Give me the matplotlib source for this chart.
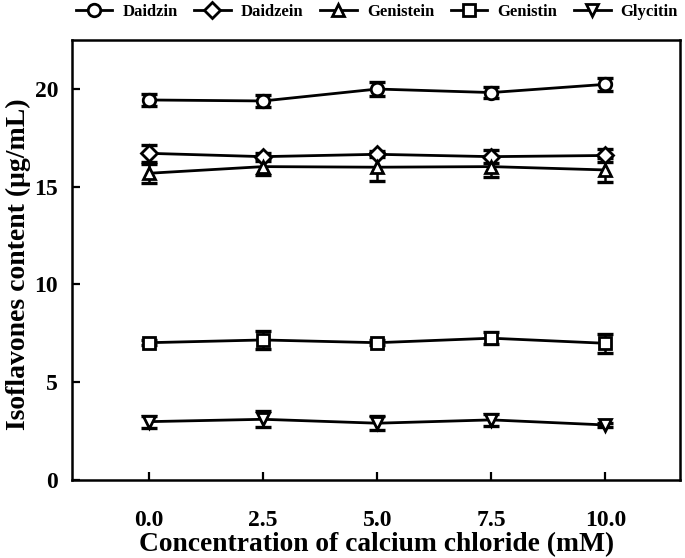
import matplotlib
matplotlib.use("Agg")
import matplotlib.pyplot as plt

plt.rcParams['font.family'] = ['Liberation Serif', 'DejaVu Serif']
plt.rcParams['font.weight'] = 'bold'

conc = [0.0, 2.5, 5.0, 7.5, 10.0]
xtick_labels = ["0.0", "2.5", "5.0", "7.5", "10.0"]
yticks = [0, 5, 10, 15, 20]

series_names = ["Daidzin", "Daidzein", "Genistein", "Genistin", "Glycitin"]
daidzin = [19.44, 19.39, 20.0, 19.82, 20.24]
daidzin_err = [0.3, 0.3, 0.36, 0.3, 0.32]
daidzein = [16.71, 16.54, 16.66, 16.54, 16.6]
daidzein_err = [0.42, 0.2, 0.15, 0.35, 0.35]
genistein = [15.69, 16.03, 16.0, 16.03, 15.86]
genistein_err = [0.48, 0.43, 0.73, 0.53, 0.63]
genistin = [7.02, 7.16, 7.02, 7.25, 6.99]
genistin_err = [0.12, 0.48, 0.12, 0.32, 0.5]
glycitin = [2.98, 3.1, 2.9, 3.07, 2.81]
glycitin_err = [0.3, 0.4, 0.36, 0.3, 0.1]

values = [daidzin, daidzein, genistein, genistin, glycitin]
errors = [daidzin_err, daidzein_err, genistein_err, genistin_err, glycitin_err]
markers = ['o', 'D', '^', 's', 'v']
msizes = [9, 8, 9, 9, 9]

fig = plt.figure(figsize=(6.85, 5.58), dpi=100)
ax = fig.add_axes([0.105, 0.14, 0.888, 0.788])

handles = []
for name, v, e, m, ms in zip(series_names, values, errors, markers, msizes):
    ax.errorbar(conc, v, yerr=e, fmt='none', ecolor='black', elinewidth=1.8,
                capsize=5.5, capthick=2.4, zorder=2)
    ln, = ax.plot(conc, v, color='black', lw=2.0, marker=m, markersize=ms,
                  markerfacecolor='white', markeredgecolor='black',
                  markeredgewidth=2.0, zorder=3, label=name)
    handles.append(ln)

ax.set_xlim(-1.69, 11.64)
ax.set_ylim(0, 22.5)
ax.set_xticks(conc)
ax.set_xticklabels(xtick_labels)
ax.set_yticks(yticks)
ax.tick_params(direction='in', length=6, width=1.6, labelsize=17)
ax.tick_params(axis='x', pad=22)
ax.tick_params(axis='y', pad=10)
for s in ax.spines.values():
    s.set_linewidth(1.8)

ax.set_xlabel("Concentration of calcium chloride (mM)", fontsize=19.8,
              fontweight='bold', va='center', ha='center')
ax.set_ylabel("Isoflavones content (μg/mL)", fontsize=20,
              fontweight='bold', va='center', ha='center')
ax.xaxis.set_label_coords(0.5, -0.148)
ax.yaxis.set_label_coords(-0.088, 0.49)

fig.legend(handles=handles, labels=series_names, loc='center', ncol=5,
           bbox_to_anchor=(0.55, 0.978), frameon=False,
           handlelength=2.2, columnspacing=1.0, handletextpad=0.6,
           prop={'weight': 'bold', 'size': 12})

fig.savefig("out.png", dpi=100)
